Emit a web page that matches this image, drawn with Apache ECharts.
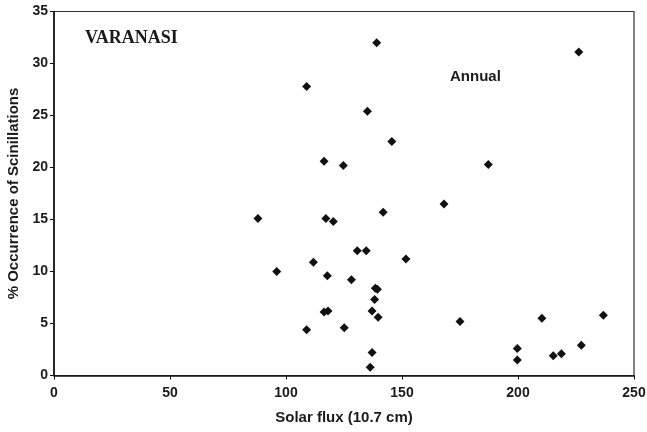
<!DOCTYPE html>
<html>
<head>
<meta charset="utf-8">
<script src="https://cdn.jsdelivr.net/npm/echarts@6/dist/echarts.min.js"></script>
<style>
  html, body { margin: 0; padding: 0; background: #fff; }
  #chart { width: 647px; height: 432px; }
</style>
</head>
<body>
<div id="chart"></div>
<script>
// Solar flux (10.7 cm) for each observation
const solarFlux = [
  87.9, 96.0, 108.9, 108.9, 111.8, 116.4, 117.2, 117.8, 116.4, 118.1,
  120.4, 124.7, 125.1, 128.2, 130.7, 134.6, 135.1, 136.3, 137.1, 137.1,
  138.2, 138.5, 139.4, 139.1, 139.7, 141.9, 145.6, 151.7, 168.1, 175.0,
  187.2, 199.7, 199.7, 210.3, 215.2, 218.7, 226.2, 227.3, 236.8
];
// Percentage occurrence of scintillations for the same observations
const occurrence = [
  15.1, 10.0, 27.8, 4.4, 10.9, 20.6, 15.1, 9.6, 6.1, 6.2,
  14.8, 20.2, 4.6, 9.2, 12.0, 12.0, 25.4, 0.8, 2.2, 6.2,
  7.3, 8.4, 8.3, 32.0, 5.6, 15.7, 22.5, 11.2, 16.5, 5.2,
  20.3, 2.6, 1.5, 5.5, 1.9, 2.1, 31.1, 2.9, 5.8
];
const xTicks = { min: 0, max: 250, interval: 50 };
const yTicks = { min: 0, max: 35, interval: 5 };

const points = solarFlux.map((x, i) => [x, occurrence[i]]);

const sans = 'Arial, "Liberation Sans", sans-serif';
const chart = echarts.init(document.getElementById('chart'), null, { renderer: 'canvas' });

chart.setOption({
  backgroundColor: '#ffffff',
  animation: false,
  grid: {
    left: 54, right: 13, top: 11.5, bottom: 56.5,
    containLabel: false,
    outerBoundsMode: 'none',
    show: true, borderColor: '#333', borderWidth: 1.2, backgroundColor: 'transparent'
  },
  xAxis: {
    type: 'value',
    min: xTicks.min, max: xTicks.max, interval: xTicks.interval,
    name: 'Solar flux (10.7 cm)',
    nameLocation: 'middle',
    nameGap: 35,
    nameTextStyle: { fontFamily: sans, fontWeight: 'bold', fontSize: 15, color: '#1a1a1a' },
    axisLine: { show: true, onZero: false, lineStyle: { color: '#111', width: 1.6 } },
    axisTick: { show: true, inside: false, length: 4, lineStyle: { color: '#111', width: 1 } },
    axisLabel: { margin: 11, fontFamily: sans, fontWeight: 'bold', fontSize: 14, color: '#1a1a1a' },
    splitLine: { show: false }
  },
  yAxis: {
    type: 'value',
    min: yTicks.min, max: yTicks.max, interval: yTicks.interval,
    name: '% Occurrence of Scinillations',
    nameLocation: 'middle',
    nameGap: 33,
    nameRotate: 90,
    nameTextStyle: { fontFamily: sans, fontWeight: 'bold', fontSize: 15, color: '#1a1a1a' },
    axisLine: { show: true, onZero: false, lineStyle: { color: '#111', width: 1.6 } },
    axisTick: { show: true, inside: false, length: 4, lineStyle: { color: '#111', width: 1 } },
    axisLabel: { margin: 6, fontFamily: sans, fontWeight: 'bold', fontSize: 14, color: '#1a1a1a' },
    splitLine: { show: false }
  },
  series: [{
    type: 'scatter',
    data: points,
    symbol: 'diamond',
    symbolSize: 9,
    itemStyle: { color: '#111', opacity: 1 }
  }],
  graphic: [
    {
      type: 'text', left: 85, top: 29,
      style: { text: 'VARANASI', font: 'bold 18px "Liberation Serif", "Times New Roman", serif', fill: '#1a1a1a' }
    },
    {
      type: 'text', left: 450, top: 69,
      style: { text: 'Annual', font: 'bold 15px Arial, "Liberation Sans", sans-serif', fill: '#1a1a1a' }
    }
  ]
});
</script>
</body>
</html>
